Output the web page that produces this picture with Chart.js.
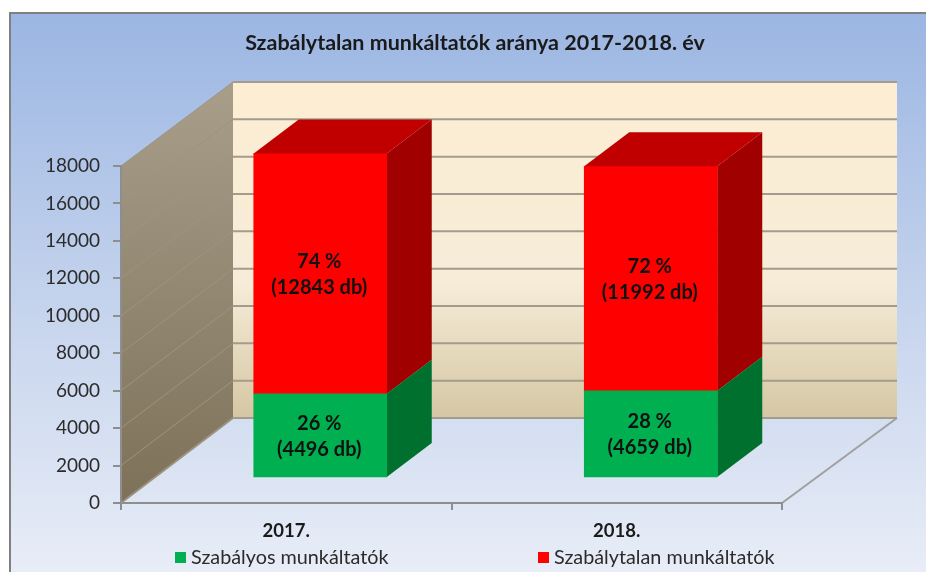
<!DOCTYPE html>
<html>
<head>
<meta charset="utf-8">
<title>Szabálytalan munkáltatók aránya</title>
<script src="https://cdn.jsdelivr.net/npm/chart.js@4"></script>
<style>
	body { margin: 0; background: #fff; }
	canvas { display: block; }
</style>
</head>
<body>
<canvas id="chart" width="926" height="572"></canvas>
<script>
const chartTitle = 'Szabálytalan munkáltatók aránya 2017-2018. év';
const years = ['2017.', '2018.'];
const regularLabel = 'Szabályos munkáltatók';
const irregularLabel = 'Szabálytalan munkáltatók';
const regularValues = [4496, 4659];
const irregularValues = [12843, 11992];
const regularPercents = ['26 %', '28 %'];
const irregularPercents = ['74 %', '72 %'];

const FONT = 'Lato';
const TEXT = '#2b2b2b';
const AXIS = '#8e8e8e';
const WALL_LINE = '#a39c8c';

// depth of the fake 3d box, and where the bars stand inside it
const WALL = { dx: 112, dy: -84 };
const BAR_SHIFT = { dx: 34, dy: -25 };
const BAR_DEPTH = { dx: 45, dy: -34 };

const percents = [regularPercents, irregularPercents];
const sideColors = ['#00702f', '#a00000'];
const topColors = ['#008a3c', '#c00000'];

function polygon(ctx, points, fill) {
	ctx.beginPath();
	points.forEach(function(p, i) {
		if (i == 0) ctx.moveTo(p[0], p[1]);
		else ctx.lineTo(p[0], p[1]);
	});
	ctx.closePath();
	ctx.fillStyle = fill;
	ctx.fill();
}

function line(ctx, x1, y1, x2, y2, color, width) {
	ctx.beginPath();
	ctx.moveTo(x1, y1);
	ctx.lineTo(x2, y2);
	ctx.strokeStyle = color;
	ctx.lineWidth = width;
	ctx.stroke();
}

const box3d = {
	id: 'box3d',
	// frame, page gradient and the walls go under the axes
	beforeDraw: function(chart) {
		const ctx = chart.ctx;
		const area = chart.chartArea;
		const y = chart.scales.y;
		ctx.save();

		const bg = ctx.createLinearGradient(0, 12, 0, 572);
		bg.addColorStop(0, '#9bb6e3');
		bg.addColorStop(0.5, '#c3d2ec');
		bg.addColorStop(1, '#e8edf7');
		ctx.fillStyle = bg;
		ctx.fillRect(9, 12, 917, 560);
		line(ctx, 9, 13, 926, 13, '#808080', 2);
		line(ctx, 10, 12, 10, 572, '#808080', 2);

		const backLeft = area.left + WALL.dx;
		const backRight = area.right + WALL.dx + 3;
		const backTop = area.top + WALL.dy;
		const backBottom = area.bottom + WALL.dy - 1;

		const back = ctx.createLinearGradient(0, backTop, 0, backBottom);
		back.addColorStop(0, '#fdeed3');
		back.addColorStop(0.6, '#f6ecd8');
		back.addColorStop(1, '#d5c7a3');
		ctx.fillStyle = back;
		ctx.fillRect(backLeft, backTop, backRight - backLeft, backBottom - backTop);

		const side = ctx.createLinearGradient(0, backTop, 0, area.bottom);
		side.addColorStop(0, '#a89e8a');
		side.addColorStop(1, '#7d7159');
		polygon(ctx, [
			[area.left, area.top], [backLeft, backTop],
			[backLeft, backBottom], [area.left, area.bottom]
		], side);

		y.ticks.forEach(function(tick) {
			const py = y.getPixelForValue(tick.value);
			const by = backTop + (py - area.top) * (backBottom - backTop) / (area.bottom - area.top);
			line(ctx, area.left, py, backLeft, by, '#9c9482', tick.value == 0 ? 2 : 1);
			line(ctx, backLeft, by, backRight, by, WALL_LINE, 2);
		});
		line(ctx, area.right, area.bottom, backRight, backBottom, '#a0a0a0', 2);
		ctx.restore();
	},
	beforeDatasetDraw: function(chart, args) {
		const ctx = chart.ctx;
		ctx.save();
		ctx.translate(BAR_SHIFT.dx, BAR_SHIFT.dy);
		args.meta.data.forEach(function(bar) {
			const right = bar.x + bar.width / 2;
			polygon(ctx, [
				[right, bar.y], [right + BAR_DEPTH.dx, bar.y + BAR_DEPTH.dy],
				[right + BAR_DEPTH.dx, bar.base + BAR_DEPTH.dy], [right, bar.base]
			], sideColors[args.index]);
		});
	},
	afterDatasetDraw: function(chart, args) {
		const ctx = chart.ctx;
		const isTop = args.index == chart.data.datasets.length - 1;
		ctx.textAlign = 'center';
		ctx.textBaseline = 'middle';
		args.meta.data.forEach(function(bar, i) {
			const left = bar.x - bar.width / 2;
			const right = bar.x + bar.width / 2;
			if (isTop) {
				polygon(ctx, [
					[left, bar.y], [right, bar.y],
					[right + BAR_DEPTH.dx, bar.y + BAR_DEPTH.dy],
					[left + BAR_DEPTH.dx, bar.y + BAR_DEPTH.dy]
				], topColors[args.index]);
			}
			const mid = (bar.y + bar.base) / 2;
			const value = chart.data.datasets[args.index].data[i];
			ctx.fillStyle = '#111';
			ctx.font = 'bold 20px ' + FONT;
			ctx.fillText(percents[args.index][i], bar.x - 1, mid - 12);
			ctx.fillText('(' + value + ' db)', bar.x - 1, mid + 14);
		});
		ctx.restore();
	},
	// legend gap is too wide for the built in legend
	afterDraw: function(chart) {
		const ctx = chart.ctx;
		const boxes = [175, 538];
		ctx.save();
		ctx.font = '19.8px ' + FONT;
		ctx.textBaseline = 'middle';
		ctx.textAlign = 'left';
		chart.data.datasets.forEach(function(ds, i) {
			ctx.fillStyle = ds.backgroundColor;
			ctx.fillRect(boxes[i], 552, 11, 11);
			ctx.fillStyle = TEXT;
			ctx.fillText(ds.label, boxes[i] + 16, 558);
		});
		ctx.restore();
	}
};

new Chart(document.getElementById('chart'), {
	type: 'bar',
	data: {
		labels: years,
		datasets: [
			{ label: regularLabel, data: regularValues, backgroundColor: '#00b050', barThickness: 133, clip: false },
			{ label: irregularLabel, data: irregularValues, backgroundColor: '#ff0000', barThickness: 133, clip: false }
		]
	},
	options: {
		responsive: false,
		animation: false,
		layout: { padding: { left: 24 } },
		plugins: {
			legend: { display: false },
			tooltip: { enabled: false },
			title: {
				display: true,
				text: chartTitle,
				color: '#1a1a1a',
				font: { family: FONT, size: 21.5, weight: 'bold', lineHeight: 1.2 },
				padding: { top: 30, bottom: 110.2 }
			}
		},
		scales: {
			x: {
				stacked: true,
				border: { color: AXIS, width: 2 },
				grid: { drawOnChartArea: false, color: AXIS, lineWidth: 2, tickLength: 7 },
				ticks: { color: '#1a1a1a', font: { family: FONT, size: 18.5, weight: 'bold' }, padding: 10, maxRotation: 0 },
				afterFit: function(scale) { scale.height = 69; }
			},
			y: {
				stacked: true,
				min: 0,
				max: 18000,
				border: { color: AXIS, width: 2 },
				grid: { drawOnChartArea: false, color: AXIS, lineWidth: 2, tickLength: 8 },
				ticks: {
					stepSize: 2000,
					color: TEXT,
					font: { family: FONT, size: 19 },
					padding: 13,
					callback: function(value) { return String(value); }
				},
				afterFit: function(scale) { scale.width = 97; }
			},
			// empty axis, only holds the space right of the plot
			spacer: {
				position: 'right',
				grid: { display: false },
				border: { display: false },
				ticks: { display: false },
				afterFit: function(scale) { scale.width = 144; }
			}
		}
	},
	plugins: [box3d]
});
</script>
</body>
</html>
